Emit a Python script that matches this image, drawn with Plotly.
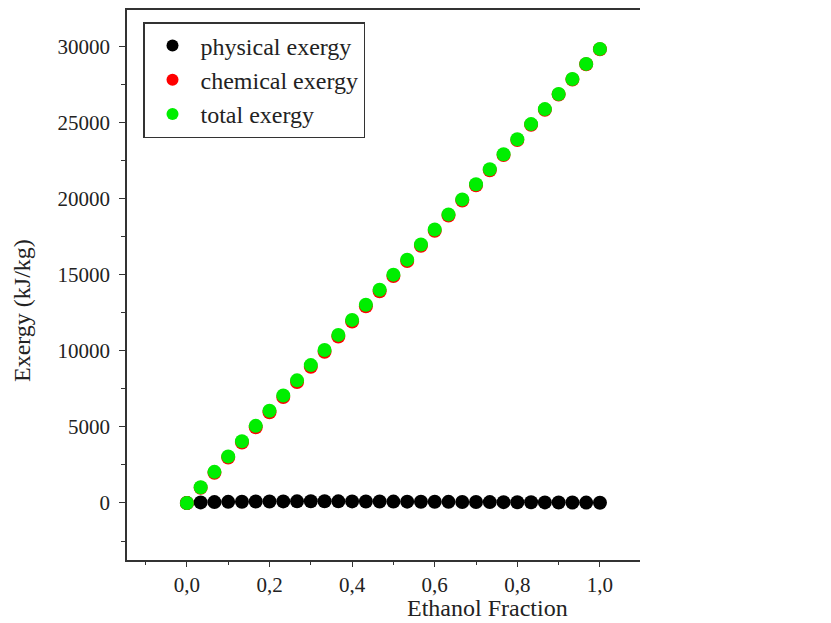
import plotly.graph_objects as go

ethanol_fraction = [i / 30 for i in range(31)]
physical_exergy = [0, 40, 60, 75, 85, 95, 100, 105, 108, 110, 110, 108, 105, 100, 96, 92, 88, 84, 80, 75, 70, 65, 60, 55, 50, 45, 40, 35, 30, 25, 20]
chemical_exergy = [0, 1000, 1990, 2990, 3980, 4980, 5970, 6970, 7960, 8960, 9950, 10950, 11940, 12940, 13930, 14930, 15920, 16920, 17910, 18910, 19900, 20900, 21890, 22890, 23880, 24880, 25870, 26870, 27860, 28860, 29850]
total_exergy = [c + p for c, p in zip(chemical_exergy, physical_exergy)]

x_tick_values = [0, 0.2, 0.4, 0.6, 0.8, 1.0]
y_tick_values = [0, 5000, 10000, 15000, 20000, 25000, 30000]

font_family = "Liberation Serif"
ink = "#222222"
axis_color = "#333333"

W, H = 831, 623
L, R, T, B = 127, 640, 10, 560

fig = go.Figure()
series = [
    ("physical exergy", physical_exergy, "#000000"),
    ("chemical exergy", chemical_exergy, "#ff0000"),
    ("total exergy", total_exergy, "#00ee00"),
]
for name, vals, color in series:
    fig.add_trace(go.Scatter(
        x=ethanol_fraction, y=vals, mode="markers", name=name,
        marker=dict(size=14, color=color, line=dict(width=0)),
    ))

pw, ph = R - L, B - T
fig.update_layout(
    width=W, height=H,
    margin=dict(l=L, r=W - R, t=T, b=H - B, autoexpand=False),
    paper_bgcolor="white", plot_bgcolor="white",
    separators=", ",
    font=dict(family=font_family, size=21, color=ink),
    showlegend=True,
    legend=dict(
        x=(143 - L) / pw, y=1 - (22 - T) / ph, xanchor="left", yanchor="top",
        bordercolor=axis_color, borderwidth=1.5,
        font=dict(family=font_family, size=24, color=ink),
        bgcolor="rgba(255,255,255,0)",
        itemsizing="constant",
        itemwidth=46,
        tracegroupgap=0,
    ),
    annotations=[
        dict(text="Ethanol Fraction", xref="paper", yref="paper",
             x=(487 - L) / pw, y=-(608 - B) / ph, xanchor="center", yanchor="middle",
             showarrow=False, font=dict(family=font_family, size=24, color=ink)),
        dict(text="Exergy (kJ/kg)", xref="paper", yref="paper",
             x=-(L - 22) / pw, y=(B - 311) / ph, xanchor="center", yanchor="middle",
             textangle=-90, showarrow=False, font=dict(family=font_family, size=24, color=ink)),
    ],
)
fig.update_xaxes(
    range=[-0.145, 1.097],
    tickvals=x_tick_values,
    tickformat=".1f",
    ticks="outside", ticklen=5, tickwidth=1.2, tickcolor=axis_color,
    minor=dict(ticks="outside", ticklen=3, tickwidth=1.2, tickcolor=axis_color, dtick=0.1, tick0=0),
    showline=True, linecolor=axis_color, linewidth=1.5, mirror=True,
    showgrid=False, zeroline=False, automargin=False,
    tickfont=dict(family=font_family, size=21, color=ink),
)
fig.update_yaxes(
    range=[-3750, 32430],
    tickvals=y_tick_values,
    tickformat="d",
    ticks="outside", ticklen=6, tickwidth=1.2, tickcolor=axis_color,
    minor=dict(ticks="outside", ticklen=4, tickwidth=1.2, tickcolor=axis_color, dtick=2500, tick0=0),
    showline=True, linecolor=axis_color, linewidth=1.5, mirror=False,
    showgrid=False, zeroline=False, automargin=False,
    ticklabelstandoff=5,
    tickfont=dict(family=font_family, size=21, color=ink),
)

fig.write_html("out.html")
